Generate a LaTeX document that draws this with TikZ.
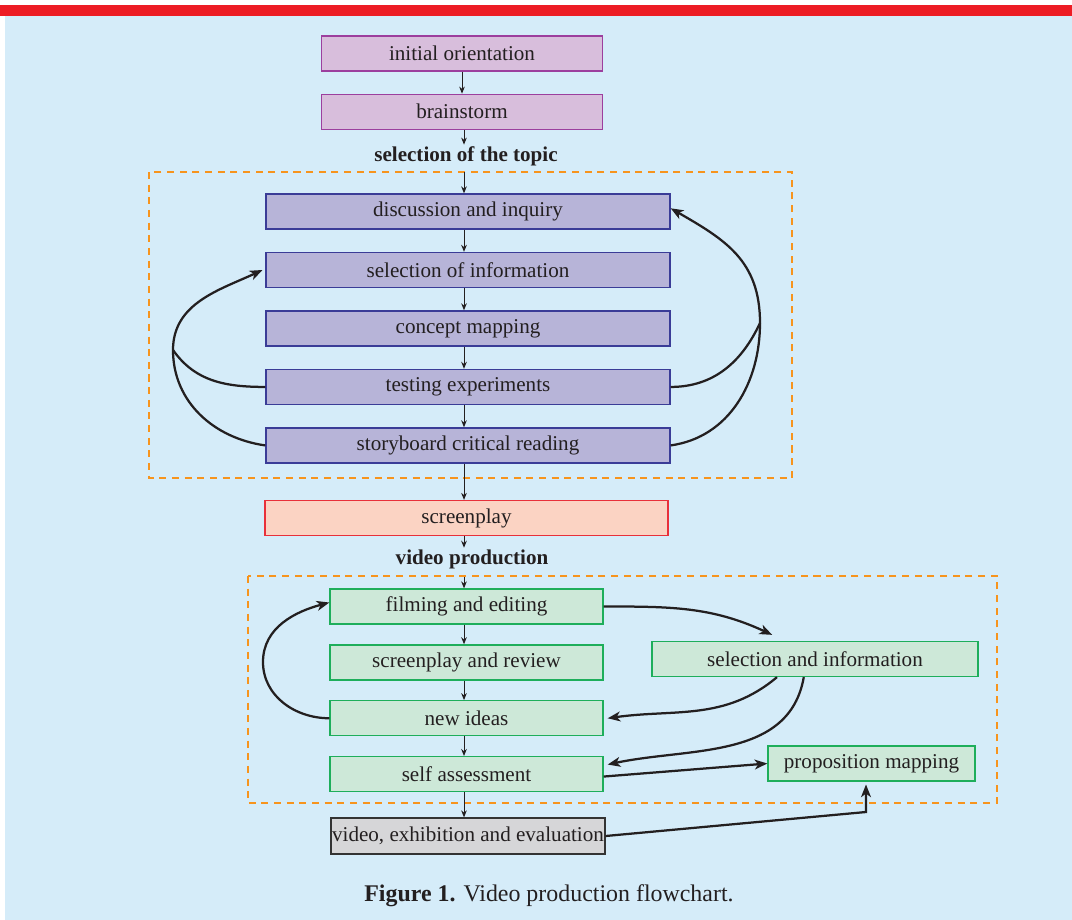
\documentclass[tikz,border=0pt]{standalone}
\usepackage{fontspec}
\setmainfont{Liberation Serif}
\usetikzlibrary{arrows.meta, positioning}
\definecolor{pagebg}{HTML}{D5ECF9}
\definecolor{topbar}{HTML}{ED1C24}
\definecolor{lilacfill}{HTML}{D8BEDC}
\definecolor{lilacline}{HTML}{9C3F9E}
\definecolor{violetfill}{HTML}{B7B4D8}
\definecolor{violetline}{HTML}{3A3C97}
\definecolor{peachfill}{HTML}{FBD3C3}
\definecolor{peachline}{HTML}{E8303A}
\definecolor{mintfill}{HTML}{CDE8D8}
\definecolor{mintline}{HTML}{1EAE5B}
\definecolor{greyfill}{HTML}{D6D6D8}
\definecolor{greyline}{HTML}{333333}
\definecolor{framedash}{HTML}{F7941D}
\definecolor{inkdark}{HTML}{231F20}

\begin{document}
\begin{tikzpicture}[
  x=0.025cm, y=-0.025cm,
  box/.style={draw, line width=0.9pt, minimum height=0.875cm, inner sep=0pt, text=inkdark, font=\fontsize{15}{18}\selectfont},
  lilacbox/.style={box, draw=lilacline, fill=lilacfill, minimum width=7.025cm},
  violetbox/.style={box, draw=violetline, fill=violetfill, minimum width=10.1cm},
  peachbox/.style={box, draw=peachline, fill=peachfill, minimum width=10.075cm},
  mintbox/.style={box, draw=mintline, fill=mintfill, minimum width=6.825cm},
  greybox/.style={box, draw=greyline, fill=greyfill, minimum width=6.85cm, minimum height=0.9cm},
  sectlbl/.style={font=\fontsize{15}{18}\selectfont\bfseries, text=inkdark, inner sep=1pt},
  frame/.style={draw=framedash, line width=1.3pt, dash pattern=on 5pt off 4pt},
  flow/.style={-{Stealth[length=5pt,width=4pt]}, line width=0.7pt, inkdark},
  loopback/.style={-{Stealth[length=9pt,width=7pt,inset=2.5pt]}, line width=1.6pt, inkdark},
  link/.style={line width=1.6pt, inkdark}
]
\useasboundingbox (0,0) rectangle (1072,920);
\fill[white] (0,0) rectangle (1072,920);
\fill[topbar] (0,5) rectangle (1072,16);
\fill[pagebg] (5,16) rectangle (1072,920);

% spine of the vertical flow
\coordinate (spine) at (464,0);

% planning stage
\node[lilacbox] (orient) at (462,53.5) {initial orientation};
\node[lilacbox, below=0.55cm of orient] (brain) {brainstorm};
\node[sectlbl] (topiclbl) at (466,156) {selection of the topic};

\draw[frame] (149,172) rectangle (792,478);
\coordinate (topicin) at (464,172);

\node[violetbox] (discuss) at (468,211.5) {discussion and inquiry};
\node[violetbox, below=0.555cm of discuss] (selinfo) {selection of information};
\node[violetbox, below=0.555cm of selinfo] (concept) {concept mapping};
\node[violetbox, below=0.555cm of concept] (testing) {testing experiments};
\node[violetbox, below=0.555cm of testing] (story) {storyboard critical reading};

\node[peachbox] (screen) at (466.5,518) {screenplay};
\node[sectlbl] (videolbl) at (472,559) {video production};

% production stage
\draw[frame] (248,576) rectangle (997,803);
\coordinate (videoin) at (464,577);

\node[mintbox] (filming) at (466.5,606.5) {filming and editing};
\node[mintbox, below=0.49cm of filming] (review) {screenplay and review};
\node[mintbox, below=0.49cm of review] (ideas) {new ideas};
\node[mintbox, below=0.49cm of ideas] (selfass) {self assessment};
\node[mintbox, minimum width=8.15cm] (selandinfo) at (815,659) {selection and information};
\node[mintbox, minimum width=5.175cm] (propmap) at (871.5,763.5) {proposition mapping};
\node[greybox] (exhibit) at (468,836) {video, exhibition and evaluation};

\node[font=\fontsize{17}{20}\selectfont, text=inkdark] (caption) at (549,896)
  {\textbf{Figure 1.} Video production flowchart.};

% straight flow
\draw[flow] (orient.south -| brain) -- (brain.north);
\draw[flow] (brain.south -| spine) -- (topiclbl.north -| spine);
\draw[flow] (topicin) -- (discuss.north -| spine);
\draw[flow] (discuss.south -| spine) -- (selinfo.north -| spine);
\draw[flow] (selinfo.south -| spine) -- (concept.north -| spine);
\draw[flow] (concept.south -| spine) -- (testing.north -| spine);
\draw[flow] (testing.south -| spine) -- (story.north -| spine);
\draw[flow] (story.south -| spine) -- (screen.north -| spine);
\draw[flow] (screen.south -| spine) -- (videolbl.north -| spine);
\draw[flow] (videoin) -- (filming.north -| spine);
\draw[flow] (filming.south -| spine) -- (review.north -| spine);
\draw[flow] (review.south -| spine) -- (ideas.north -| spine);
\draw[flow] (ideas.south -| spine) -- (selfass.north -| spine);
\draw[flow] (selfass.south -| spine) -- (exhibit.north -| spine);

% feedback loops, first stage
\coordinate (leftjoin) at (173,350);
\coordinate (rightjoin) at (760,323);
\draw[link] (testing.west) to[out=180, in=-55] (leftjoin);
\draw[loopback] (story.west) to[out=172, in=-90] (leftjoin) to[out=90, in=205] ([xshift=-0.07cm]selinfo.west);
\draw[link] (testing.east) to[out=0, in=-115] (rightjoin);
\draw[loopback] (story.east) to[out=8, in=-90] (rightjoin) to[out=90, in=-30, looseness=1.1] ([yshift=0.08cm]discuss.east);

% feedback loops, second stage
\coordinate (ideasleft) at (263,662);
\draw[loopback] (ideas.west) to[out=180, in=-90] (ideasleft) to[out=90, in=195] ([yshift=0.1cm]filming.west);
\draw[loopback] (filming.east) to[out=0, in=155] ([xshift=-1.07cm, yshift=0.15cm]selandinfo.north);
\draw[loopback] ([xshift=-0.95cm]selandinfo.south) to[out=-140, in=8] ([xshift=0.1cm]ideas.east);
\draw[loopback] ([xshift=-0.28cm]selandinfo.south) to[out=-100, in=12] ([xshift=0.1cm, yshift=0.24cm]selfass.east);
\draw[loopback] ([yshift=-0.06cm]selfass.east) -- (propmap.west);
\coordinate (exhibitbend) at (866,812);
\draw[loopback, shorten >=2pt] (exhibit.east) -- (exhibitbend) -- (exhibitbend |- propmap.south);
\end{tikzpicture}
\end{document}
